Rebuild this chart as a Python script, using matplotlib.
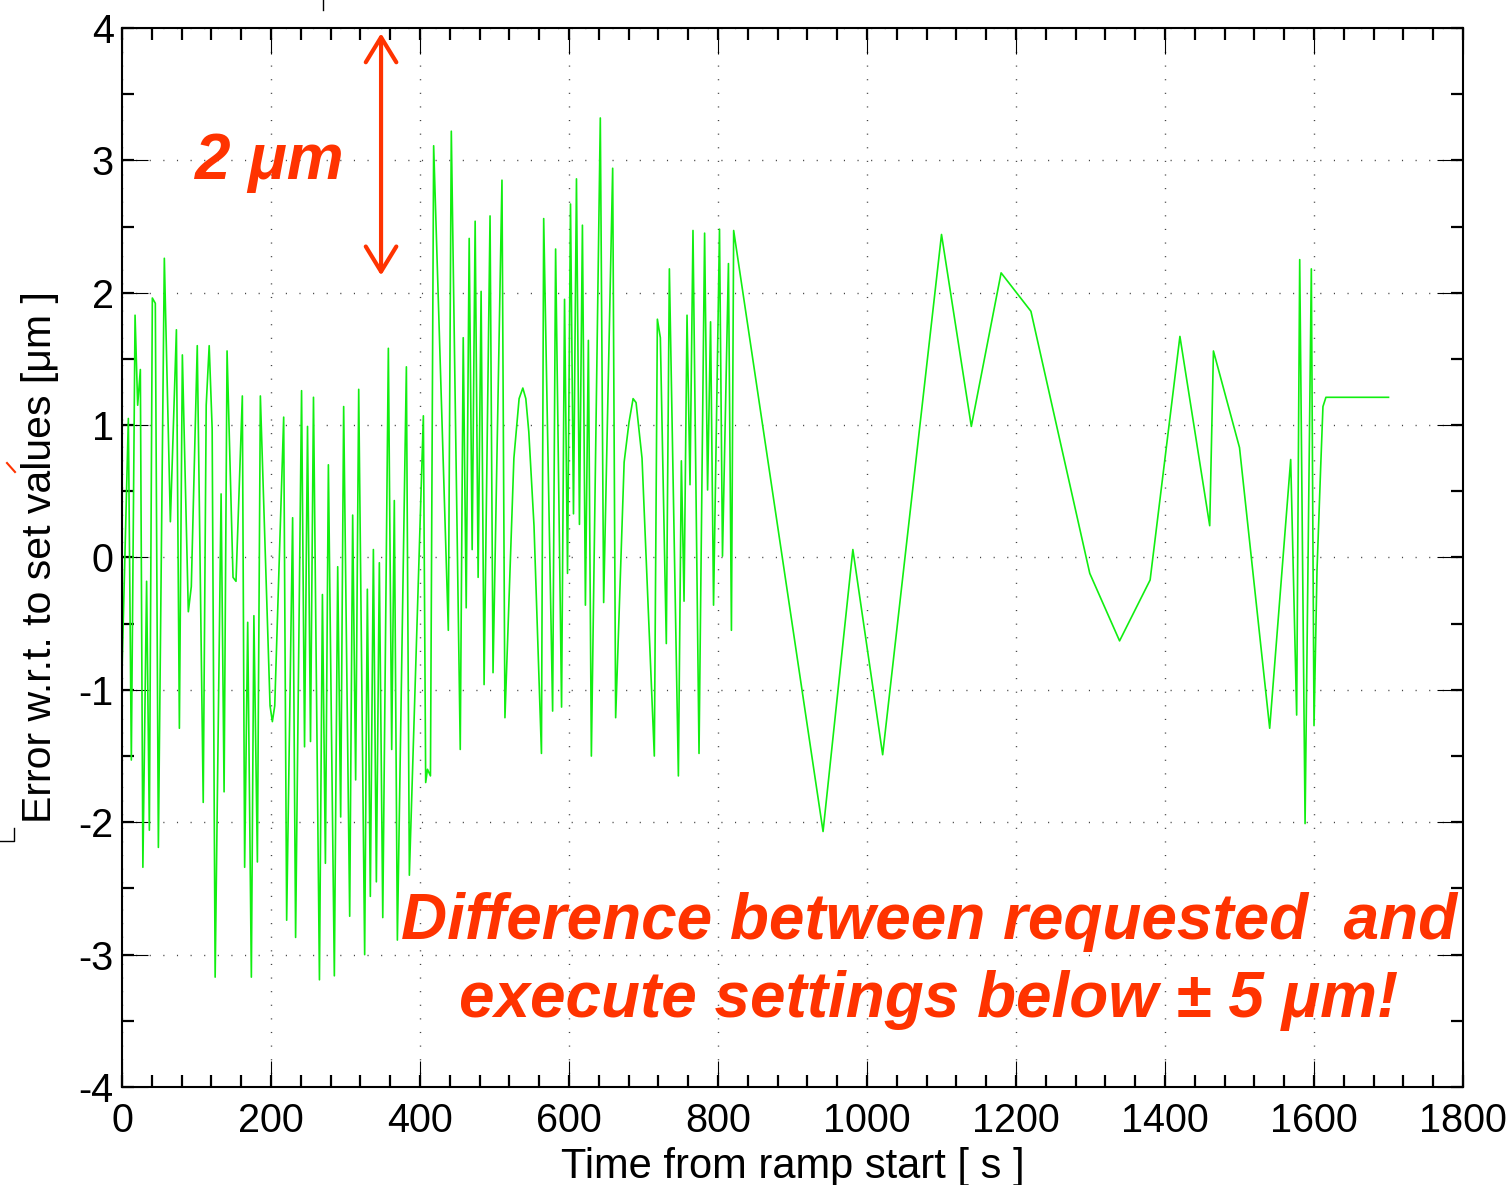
import matplotlib
matplotlib.use("Agg")
import matplotlib.pyplot as plt
from matplotlib.ticker import MultipleLocator
from matplotlib.lines import Line2D

plt.rcParams['font.family'] = ['Liberation Sans', 'DejaVu Sans']
plt.rcParams['axes.unicode_minus'] = False

# time [s] and error [um]
t = [0, 8.5, 12.5, 17.5, 21, 24.6, 28, 33, 36.7, 40.7, 44.7, 48.8, 56.8, 64.9,
     73, 77, 81, 89, 93, 101, 109, 113, 117, 121, 125, 133, 137, 141, 149, 153,
     161.5, 164.6, 168.7, 173.6, 177, 181.7, 185.7, 198.7, 201.8, 205, 217, 221,
     229, 233, 241, 245, 249, 253, 257, 265, 269, 273, 277, 285, 289.5, 293.5,
     297.5, 305.6, 309.6, 313.6, 317.7, 325.7, 329.3, 333.3, 337.4, 341.4,
     345.4, 350, 357.5, 362, 365.5, 369.6, 381.7, 385.7, 404.5, 407.6, 410, 414,
     418.3, 438, 442, 454, 458, 462, 466, 470, 474, 478, 482, 486, 494, 498,
     510, 514, 526, 533, 538, 542, 546, 553, 563, 566, 578, 582, 590, 594, 598,
     602, 606, 610, 614, 618, 622, 626, 630, 642, 646.5, 658.6, 662.6, 674,
     680.5, 686, 690, 698, 714.5, 718.6, 722.6, 730.6, 734.7, 746.8, 750.8,
     754.4, 758.4, 762.4, 766.4, 774.5, 782, 786, 790, 794, 802, 806, 814, 818,
     821, 941, 981, 1021, 1100, 1140, 1180, 1220, 1299, 1339, 1380, 1420, 1460,
     1465, 1500, 1540.5, 1568.7, 1576.7, 1580.8, 1588, 1596.4, 1600, 1604, 1609,
     1612, 1616, 1700]
err = [-0.86, 1.05, -1.53, 1.83, 1.15, 1.42, -2.34, -0.18, -2.06, 1.96, 1.92,
       -2.19, 2.26, 0.27, 1.72, -1.29, 1.53, -0.41, -0.22, 1.60, -1.85, 1.15,
       1.60, 0.97, -3.17, 0.48, -1.77, 1.56, -0.15, -0.18, 1.22, -2.34, -0.49,
       -3.17, -0.44, -2.30, 1.22, -1.12, -1.24, -1.12, 1.06, -2.74, 0.30, -2.87,
       1.26, -1.43, 0.99, -1.39, 1.21, -3.19, -0.28, -2.31, 0.70, -3.16, -0.07,
       -1.96, 1.14, -2.71, 0.32, -1.68, 1.27, -3.00, -0.24, -2.56, 0.06, -2.45,
       -0.04, -2.72, 1.58, -1.45, 0.43, -2.89, 1.44, -2.40, 1.07, -1.70, -1.60,
       -1.65, 3.11, -0.55, 3.22, -1.45, 1.66, -0.38, 2.41, 0.06, 2.54, -0.15,
       2.01, -0.96, 2.58, -0.87, 2.85, -1.21, 0.75, 1.20, 1.28, 1.20, 0.95, 0.24,
       -1.48, 2.56, -1.16, 2.33, -1.13, 1.95, -0.12, 2.67, 0.33, 2.86, 0.25, 2.51,
       -0.36, 1.64, -1.50, 3.32, -0.34, 2.94, -1.21, 0.72, 1.02, 1.20, 1.17, 0.75,
       -1.50, 1.80, 1.66, -0.65, 2.18, -1.65, 0.73, -0.33, 1.83, 0.55, 2.47,
       -1.48, 2.45, 0.51, 1.78, -0.36, 2.48, 0.01, 2.22, -0.55, 2.47, -2.07,
       0.06, -1.49, 2.44, 0.99, 2.15, 1.86, -0.12, -0.63, -0.17, 1.67, 0.24,
       1.56, 0.83, -1.29, 0.74, -1.19, 2.25, -2.01, 2.18, -1.27, -0.10, 0.69,
       1.14, 1.21, 1.21]

xticks = list(range(0, 1801, 200))
yticks = list(range(-4, 5))
red = '#ff3300'

fig = plt.figure(figsize=(15.12, 11.85), dpi=100)
ax = fig.add_axes([0.0807, 0.0827, 0.8869, 0.8937])

ax.plot(t, err, color='#11ee11', lw=1.2)

ax.set_xlim(0, 1800)
ax.set_ylim(-4, 4)
ax.set_xticks(xticks)
ax.set_yticks(yticks)
ax.xaxis.set_minor_locator(MultipleLocator(40))
ax.yaxis.set_minor_locator(MultipleLocator(0.5))
ax.xaxis.remove_overlapping_locs = False
ax.yaxis.remove_overlapping_locs = False

ax.grid(True, which='major', color='#444444', lw=1.0, linestyle=(0, (0.8, 9)))
ax.tick_params(which='both', direction='in', top=True, right=True,
               labelsize=28.5)
ax.tick_params(which='major', length=19, width=0.8)
ax.tick_params(which='minor', length=8.6, width=1.6)
ax.tick_params(axis='x', which='major', pad=11)
ax.tick_params(axis='y', which='major', pad=6)
for s in ax.spines.values():
    s.set_linewidth(1.5)

ax.set_xlabel('Time from ramp start [ s ]', fontsize=30, labelpad=5)
ax.set_ylabel('Error w.r.t. to set values [μm ]', fontsize=29.5, labelpad=14)

# annotations
ax.annotate('', xy=(347.7, 3.96), xytext=(347.7, 2.13),
            arrowprops=dict(arrowstyle='<->, head_length=0.9, head_width=0.55',
                            color=red, lw=3, shrinkA=0, shrinkB=0,
                            mutation_scale=20))
ax.text(98, 2.86, '2 μm', color=red, fontsize=46, fontweight='bold',
        fontstyle='italic', ha='left', va='baseline')
ax.text(1083, -2.88, 'Difference between requested  and', color=red,
        fontsize=46, fontweight='bold', fontstyle='italic', ha='center',
        va='baseline')
ax.text(1083, -3.47, 'execute settings below ± 5 μm!', color=red,
        fontsize=46, fontweight='bold', fontstyle='italic', ha='center',
        va='baseline')

# leftover marks from the pasted slide
W, H = 1512, 1185
fig.add_artist(Line2D([323 / W, 323 / W], [1, 1 - 10 / H], color='k', lw=1))
fig.add_artist(Line2D([0, 14 / W, 14 / W], [1 - 841 / H, 1 - 841 / H, 1 - 828 / H],
                      color='k', lw=1))
fig.add_artist(Line2D([7 / W, 15 / W], [1 - 463 / H, 1 - 472 / H], color=red, lw=1.5))

fig.savefig('out.png', dpi=100)
